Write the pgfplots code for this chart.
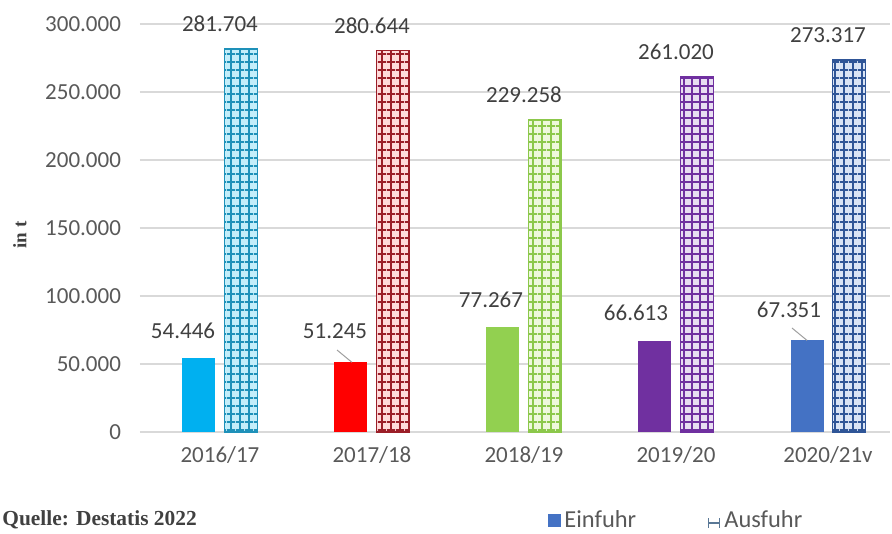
\documentclass[border=0pt]{standalone}
\usepackage{pgfplots}
\pgfplotsset{compat=1.18}
\usepackage{fontspec}
\setmainfont{Carlito}
\newfontfamily\quellefont{Liberation Serif}
\usetikzlibrary{patterns}
\definecolor{c1}{RGB}{0,176,240}
\definecolor{c2}{RGB}{255,0,0}
\definecolor{c3}{RGB}{146,208,80}
\definecolor{c4}{RGB}{112,48,160}
\definecolor{c5}{RGB}{68,114,196}
\definecolor{a1}{RGB}{30,145,185}
\definecolor{f1}{RGB}{195,238,250}
\definecolor{a2}{RGB}{155,30,40}
\definecolor{f2}{RGB}{255,218,218}
\definecolor{a3}{RGB}{140,200,75}
\definecolor{f3}{RGB}{238,248,220}
\definecolor{a4}{RGB}{112,48,160}
\definecolor{f4}{RGB}{232,222,242}
\definecolor{a5}{RGB}{47,85,151}
\definecolor{f5}{RGB}{218,228,245}
\definecolor{lbl}{RGB}{64,64,64}
\definecolor{tck}{RGB}{89,89,89}
\definecolor{gridc}{RGB}{217,217,217}
\definecolor{legh}{RGB}{90,120,150}
\pgfdeclarepatternformonly{cellgrid}{\pgfqpoint{0pt}{0pt}}{\pgfqpoint{4.2pt}{4.2pt}}{\pgfqpoint{4.2pt}{4.2pt}}{%
  \pgfsetlinewidth{0.9pt}%
  \pgfpathmoveto{\pgfqpoint{0pt}{2.1pt}}\pgfpathlineto{\pgfqpoint{4.2pt}{2.1pt}}%
  \pgfpathmoveto{\pgfqpoint{2.1pt}{0pt}}\pgfpathlineto{\pgfqpoint{2.1pt}{4.2pt}}%
  \pgfusepath{stroke}}
\pgfplotsset{
  ein/.style={ybar, bar width=16.5pt, bar shift=-10.5pt, fill=#1, draw=none, forget plot},
  aus/.style 2 args={ybar, bar width=16.5pt, bar shift=10.5pt, fill=#2, draw=#1, line width=0.8pt,
    postaction={pattern=cellgrid, pattern color=#1}, forget plot,
    nodes near coords, point meta=explicit symbolic,
    every node near coord/.append style={anchor=center, yshift=12.5pt, text=lbl, font=\fontsize{11.5}{13}\selectfont}},
}
\begin{document}
\begin{tikzpicture}
\begin{axis}[
  scale only axis, width=375pt, height=204pt,
  xmin=-0.526, xmax=4.408, ymin=0, ymax=300000,
  clip=false,
  axis line style={draw=none},
  major tick length=0pt,
  ymajorgrids, grid style={gridc, line width=0.6pt},
  xtick={0,1,2,3,4},
  xticklabels={2016/17,2017/18,2018/19,2019/20,2020/21v},
  ytick={0,50000,100000,150000,200000,250000,300000},
  scaled y ticks=false,
  /pgf/number format/.cd, 1000 sep={.}, fixed, assume math mode=true, /pgfplots/.cd,
  tick label style={font=\fontsize{11.5}{13}\selectfont, text=tck},
  xticklabel style={yshift=-3.5pt},
  yticklabel style={xshift=-6pt},
  ylabel={\quellefont\bfseries in t},
  ylabel style={at={(axis description cs:-0.16,0.483)}, anchor=center, font=\fontsize{9.5}{11}\selectfont, text=lbl},
  legend style={at={(axis description cs:0.535,-0.218)}, anchor=west, draw=none, fill=none,
    font=\fontsize{12.2}{14}\selectfont, text=tck, legend columns=2,
    /tikz/every even column/.append style={column sep=34pt}},
  legend cell align=left,
]
\addplot[ein=c1] coordinates {(0,54446)};
\addplot[ein=c2] coordinates {(1,51245)};
\addplot[ein=c3] coordinates {(2,77267)};
\addplot[ein=c4] coordinates {(3,66613)};
\addplot[ein=c5] coordinates {(4,67351)};
\addplot[aus={a1}{f1}] coordinates {(0,281704)[281.704]};
\addplot[aus={a2}{f2}] coordinates {(1,280644)[280.644]};
\addplot[aus={a3}{f3}] coordinates {(2,229258)[229.258]};
\addplot[aus={a4}{f4}] coordinates {(3,261020)[261.020]};
\addplot[aus={a5}{f5}] coordinates {(4,273317)[273.317]};
% Einfuhr labels
\addplot[draw=none, mark=none, forget plot, nodes near coords, point meta=explicit symbolic,
  every node near coord/.append style={anchor=center, text=lbl, font=\fontsize{11.5}{13}\selectfont}]
  coordinates {(-0.243,74265)[54.446] (0.757,74265)[51.245] (1.783,97059)[77.267] (2.737,87500)[66.613] (3.743,89706)[67.351]};
% leader lines
\addplot[lbl!50, line width=0.5pt, mark=none, forget plot] coordinates {(0.770,60294) (0.868,51245)};
\addplot[lbl!50, line width=0.5pt, mark=none, forget plot] coordinates {(3.763,76471) (3.862,67351)};
\addlegendimage{legend image code/.code={\fill[c5] (0pt,-2.5pt) rectangle (6pt,3.5pt);}}
\addlegendentry{Einfuhr}
\addlegendimage{legend image code/.code={\draw[legh, line width=0.6pt] (0pt,-3.5pt)--(0pt,1.5pt) (5.5pt,-3.5pt)--(5.5pt,1.5pt) (0pt,-1pt)--(5.5pt,-1pt);}}
\addlegendentry{Ausfuhr}
\node[anchor=west, text=lbl, font=\quellefont\bfseries\fontsize{10.7}{12}\selectfont, inner sep=0pt] at (axis description cs:-0.184,-0.216) {Quelle: Destatis 2022};
\end{axis}
\pgfresetboundingbox
\path (-70pt,-51pt) rectangle (376pt,216pt);
\end{tikzpicture}
\end{document}
